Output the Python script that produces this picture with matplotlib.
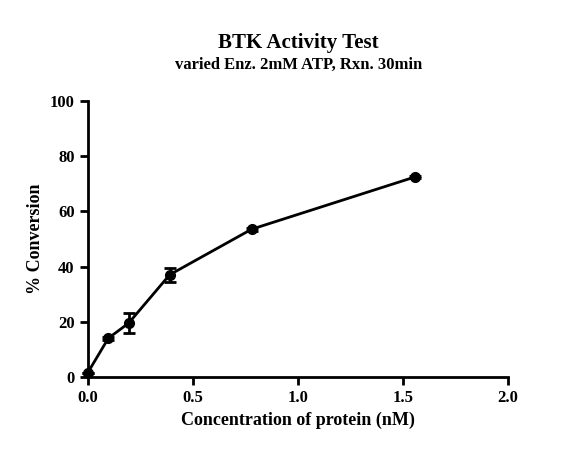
import matplotlib
matplotlib.use("Agg")
import matplotlib.pyplot as plt

conc = [0.0, 0.098, 0.195, 0.39, 0.78, 1.56]
conversion = [1.5, 14.0, 19.5, 37.0, 53.5, 72.5]
err = [0.0, 0.5, 3.5, 2.5, 0.5, 0.3]

plt.rcParams['font.family'] = ['Liberation Serif']
plt.rcParams['font.weight'] = 'bold'

fig = plt.figure(figsize=(5.85, 4.63), dpi=100)
ax = fig.add_axes([0.150, 0.186, 0.718, 0.596])
cont = ax.errorbar(conc, conversion, yerr=err, color='black', marker='o', markersize=7,
                   linewidth=2, elinewidth=2, capsize=4, capthick=2)
for art in cont.get_children():
    art.set_clip_on(False)
ax.set_xlim(0, 2.0)
ax.set_ylim(0, 100)
ax.set_xticks([0.0, 0.5, 1.0, 1.5, 2.0])
ax.set_xticklabels(['0.0', '0.5', '1.0', '1.5', '2.0'])
ax.set_yticks([0, 20, 40, 60, 80, 100])
for s in ['top', 'right']:
    ax.spines[s].set_visible(False)
for s in ['left', 'bottom']:
    ax.spines[s].set_linewidth(2)
ax.tick_params(direction='out', width=2, length=6, labelsize=12)
for lab in ax.get_xticklabels() + ax.get_yticklabels():
    lab.set_fontweight('bold')
ax.set_xlabel('Concentration of protein (nM)', fontsize=13, fontweight='bold')
ax.set_ylabel('% Conversion', fontsize=13, fontweight='bold')
fig.text(0.51, 0.897, 'BTK Activity Test', ha='center', fontsize=15, fontweight='bold')
fig.text(0.51, 0.852, 'varied Enz. 2mM ATP, Rxn. 30min', ha='center', fontsize=12, fontweight='bold')
fig.savefig('out.png', dpi=100)
